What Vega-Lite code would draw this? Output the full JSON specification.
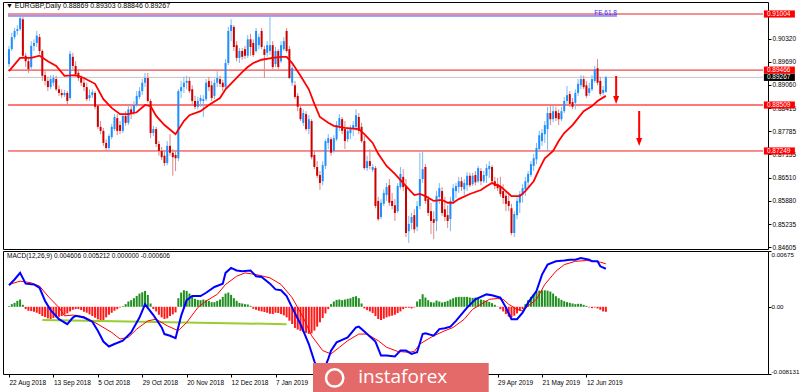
{
"$schema": "https://vega.github.io/schema/vega-lite/v6.json",
"background": "white",
"padding": {"left": 2, "top": 1, "right": 0, "bottom": 0},
"spacing": 2,
"bounds": "flush",
"config": {"view": {"stroke": "#000000", "strokeWidth": 1}, "font": "Liberation Sans", "axis": {"labelFont": "Liberation Sans", "labelFontSize": 6.5, "labelColor": "#000000", "tickColor": "#000000", "domain": false, "grid": false, "labelOverlap": false, "labelBound": false}},
"datasets": {
"candles": [
{"i":0,"o":0.8963,"h":0.9013,"l":0.8955,"c":0.9004},{"i":1,"o":0.9004,"h":0.9049,"l":0.8999,"c":0.9037},{"i":2,"o":0.9037,"h":0.9062,"l":0.9031,"c":0.9054},{"i":3,"o":0.9054,"h":0.9070,"l":0.9043,"c":0.9059},{"i":4,"o":0.9059,"h":0.9100,"l":0.9054,"c":0.9089},
{"i":5,"o":0.9086,"h":0.9092,"l":0.8980,"c":0.8986},{"i":6,"o":0.8986,"h":0.8994,"l":0.8955,"c":0.8971},{"i":7,"o":0.8971,"h":0.8983,"l":0.8939,"c":0.8949},{"i":8,"o":0.8955,"h":0.9026,"l":0.8949,"c":0.9013},{"i":9,"o":0.9013,"h":0.9031,"l":0.8999,"c":0.9021},
{"i":10,"o":0.9021,"h":0.9054,"l":0.9010,"c":0.9041},{"i":11,"o":0.9037,"h":0.9046,"l":0.8991,"c":0.8999},{"i":12,"o":0.8999,"h":0.9004,"l":0.8917,"c":0.8931},{"i":13,"o":0.8933,"h":0.8944,"l":0.8905,"c":0.8917},{"i":14,"o":0.8917,"h":0.8928,"l":0.8889,"c":0.8900},
{"i":15,"o":0.8900,"h":0.8933,"l":0.8894,"c":0.8922},{"i":16,"o":0.8912,"h":0.8933,"l":0.8903,"c":0.8925},{"i":17,"o":0.8922,"h":0.8931,"l":0.8889,"c":0.8894},{"i":18,"o":0.8894,"h":0.8905,"l":0.8876,"c":0.8884},{"i":19,"o":0.8884,"h":0.8894,"l":0.8870,"c":0.8878},
{"i":20,"o":0.8878,"h":0.8892,"l":0.8873,"c":0.8884},{"i":21,"o":0.8884,"h":0.8889,"l":0.8851,"c":0.8862},{"i":22,"o":0.8870,"h":0.8999,"l":0.8865,"c":0.8991},{"i":23,"o":0.8983,"h":0.8994,"l":0.8949,"c":0.8958},{"i":24,"o":0.8958,"h":0.8971,"l":0.8928,"c":0.8936},
{"i":25,"o":0.8939,"h":0.8949,"l":0.8917,"c":0.8925},{"i":26,"o":0.8925,"h":0.8933,"l":0.8903,"c":0.8912},{"i":27,"o":0.8912,"h":0.8922,"l":0.8889,"c":0.8900},{"i":28,"o":0.8900,"h":0.8912,"l":0.8862,"c":0.8867},{"i":29,"o":0.8870,"h":0.8894,"l":0.8862,"c":0.8878},
{"i":30,"o":0.8878,"h":0.8894,"l":0.8870,"c":0.8886},{"i":31,"o":0.8884,"h":0.8889,"l":0.8839,"c":0.8846},{"i":32,"o":0.8849,"h":0.8854,"l":0.8785,"c":0.8791},{"i":33,"o":0.8791,"h":0.8807,"l":0.8771,"c":0.8780},{"i":34,"o":0.8780,"h":0.8788,"l":0.8739,"c":0.8747},
{"i":35,"o":0.8747,"h":0.8757,"l":0.8725,"c":0.8733},{"i":36,"o":0.8733,"h":0.8771,"l":0.8725,"c":0.8766},{"i":37,"o":0.8763,"h":0.8799,"l":0.8757,"c":0.8791},{"i":38,"o":0.8785,"h":0.8826,"l":0.8780,"c":0.8818},{"i":39,"o":0.8815,"h":0.8826,"l":0.8768,"c":0.8780},
{"i":40,"o":0.8796,"h":0.8807,"l":0.8771,"c":0.8780},{"i":41,"o":0.8780,"h":0.8829,"l":0.8774,"c":0.8821},{"i":42,"o":0.8821,"h":0.8834,"l":0.8794,"c":0.8802},{"i":43,"o":0.8802,"h":0.8851,"l":0.8796,"c":0.8839},{"i":44,"o":0.8839,"h":0.8854,"l":0.8812,"c":0.8829},
{"i":45,"o":0.8829,"h":0.8862,"l":0.8823,"c":0.8851},{"i":46,"o":0.8851,"h":0.8889,"l":0.8846,"c":0.8876},{"i":47,"o":0.8873,"h":0.8900,"l":0.8867,"c":0.8889},{"i":48,"o":0.8889,"h":0.8922,"l":0.8878,"c":0.8912},{"i":49,"o":0.8912,"h":0.8939,"l":0.8900,"c":0.8925},
{"i":50,"o":0.8925,"h":0.8939,"l":0.8857,"c":0.8862},{"i":51,"o":0.8862,"h":0.8867,"l":0.8760,"c":0.8774},{"i":52,"o":0.8774,"h":0.8794,"l":0.8766,"c":0.8785},{"i":53,"o":0.8785,"h":0.8791,"l":0.8736,"c":0.8744},{"i":54,"o":0.8744,"h":0.8752,"l":0.8712,"c":0.8725},
{"i":55,"o":0.8725,"h":0.8736,"l":0.8700,"c":0.8708},{"i":56,"o":0.8712,"h":0.8725,"l":0.8684,"c":0.8692},{"i":57,"o":0.8692,"h":0.8752,"l":0.8686,"c":0.8739},{"i":58,"o":0.8739,"h":0.8771,"l":0.8712,"c":0.8720},{"i":59,"o":0.8720,"h":0.8730,"l":0.8657,"c":0.8708},
{"i":60,"o":0.8714,"h":0.8725,"l":0.8670,"c":0.8705},{"i":61,"o":0.8705,"h":0.8894,"l":0.8697,"c":0.8889},{"i":62,"o":0.8889,"h":0.8917,"l":0.8870,"c":0.8900},{"i":63,"o":0.8900,"h":0.8928,"l":0.8884,"c":0.8912},{"i":64,"o":0.8912,"h":0.8931,"l":0.8894,"c":0.8917},
{"i":65,"o":0.8917,"h":0.8928,"l":0.8884,"c":0.8889},{"i":66,"o":0.8894,"h":0.8905,"l":0.8851,"c":0.8862},{"i":67,"o":0.8862,"h":0.8876,"l":0.8839,"c":0.8846},{"i":68,"o":0.8846,"h":0.8873,"l":0.8839,"c":0.8862},{"i":69,"o":0.8862,"h":0.8878,"l":0.8846,"c":0.8870},
{"i":70,"o":0.8862,"h":0.8878,"l":0.8818,"c":0.8867},{"i":71,"o":0.8867,"h":0.8922,"l":0.8862,"c":0.8912},{"i":72,"o":0.8917,"h":0.8928,"l":0.8889,"c":0.8900},{"i":73,"o":0.8905,"h":0.8917,"l":0.8862,"c":0.8870},{"i":74,"o":0.8876,"h":0.8922,"l":0.8867,"c":0.8912},
{"i":75,"o":0.8912,"h":0.8944,"l":0.8900,"c":0.8925},{"i":76,"o":0.8922,"h":0.8931,"l":0.8900,"c":0.8909},{"i":77,"o":0.8912,"h":0.8920,"l":0.8889,"c":0.8900},{"i":78,"o":0.8900,"h":0.8977,"l":0.8894,"c":0.8966},{"i":79,"o":0.8966,"h":0.9065,"l":0.8960,"c":0.9054},
{"i":80,"o":0.9054,"h":0.9086,"l":0.9026,"c":0.9070},{"i":81,"o":0.9065,"h":0.9070,"l":0.8999,"c":0.9010},{"i":82,"o":0.9015,"h":0.9026,"l":0.8971,"c":0.8980},{"i":83,"o":0.8980,"h":0.9007,"l":0.8966,"c":0.8999},{"i":84,"o":0.8999,"h":0.9007,"l":0.8975,"c":0.8983},
{"i":85,"o":0.9004,"h":0.9013,"l":0.8977,"c":0.8986},{"i":86,"o":0.8986,"h":0.9043,"l":0.8980,"c":0.9031},{"i":87,"o":0.9031,"h":0.9046,"l":0.8986,"c":0.9010},{"i":88,"o":0.9021,"h":0.9031,"l":0.8983,"c":0.8988},{"i":89,"o":0.8999,"h":0.9062,"l":0.8994,"c":0.9054},
{"i":90,"o":0.9015,"h":0.9046,"l":0.9004,"c":0.9037},{"i":91,"o":0.9054,"h":0.9062,"l":0.9004,"c":0.9010},{"i":92,"o":0.9004,"h":0.9013,"l":0.8925,"c":0.8988},{"i":93,"o":0.8994,"h":0.9026,"l":0.8983,"c":0.9015},{"i":94,"o":0.8999,"h":0.9100,"l":0.8988,"c":0.9015},
{"i":95,"o":0.9015,"h":0.9026,"l":0.8949,"c":0.8955},{"i":96,"o":0.8963,"h":0.9010,"l":0.8955,"c":0.8999},{"i":97,"o":0.8999,"h":0.9004,"l":0.8949,"c":0.8955},{"i":98,"o":0.8971,"h":0.9026,"l":0.8966,"c":0.9015},{"i":99,"o":0.9004,"h":0.9037,"l":0.8999,"c":0.9026},
{"i":100,"o":0.9054,"h":0.9062,"l":0.8994,"c":0.8999},{"i":101,"o":0.9004,"h":0.9013,"l":0.8922,"c":0.8925},{"i":102,"o":0.8912,"h":0.8966,"l":0.8903,"c":0.8952},{"i":103,"o":0.8905,"h":0.8917,"l":0.8867,"c":0.8873},{"i":104,"o":0.8876,"h":0.8884,"l":0.8834,"c":0.8846},
{"i":105,"o":0.8843,"h":0.8851,"l":0.8807,"c":0.8812},{"i":106,"o":0.8802,"h":0.8839,"l":0.8794,"c":0.8829},{"i":107,"o":0.8826,"h":0.8834,"l":0.8780,"c":0.8785},{"i":108,"o":0.8785,"h":0.8823,"l":0.8771,"c":0.8812},{"i":109,"o":0.8807,"h":0.8812,"l":0.8702,"c":0.8708},
{"i":110,"o":0.8714,"h":0.8725,"l":0.8675,"c":0.8681},{"i":111,"o":0.8681,"h":0.8697,"l":0.8651,"c":0.8657},{"i":112,"o":0.8659,"h":0.8670,"l":0.8618,"c":0.8637},{"i":113,"o":0.8642,"h":0.8697,"l":0.8631,"c":0.8686},{"i":114,"o":0.8684,"h":0.8757,"l":0.8675,"c":0.8752},
{"i":115,"o":0.8747,"h":0.8771,"l":0.8730,"c":0.8760},{"i":116,"o":0.8757,"h":0.8763,"l":0.8712,"c":0.8720},{"i":117,"o":0.8725,"h":0.8768,"l":0.8720,"c":0.8760},{"i":118,"o":0.8757,"h":0.8807,"l":0.8752,"c":0.8796},{"i":119,"o":0.8794,"h":0.8826,"l":0.8780,"c":0.8815},
{"i":120,"o":0.8812,"h":0.8818,"l":0.8771,"c":0.8780},{"i":121,"o":0.8785,"h":0.8807,"l":0.8730,"c":0.8752},{"i":122,"o":0.8757,"h":0.8788,"l":0.8749,"c":0.8780},{"i":123,"o":0.8774,"h":0.8796,"l":0.8757,"c":0.8788},{"i":124,"o":0.8785,"h":0.8807,"l":0.8766,"c":0.8796},
{"i":125,"o":0.8791,"h":0.8839,"l":0.8780,"c":0.8823},{"i":126,"o":0.8818,"h":0.8829,"l":0.8771,"c":0.8780},{"i":127,"o":0.8791,"h":0.8802,"l":0.8747,"c":0.8752},{"i":128,"o":0.8752,"h":0.8766,"l":0.8673,"c":0.8678},{"i":129,"o":0.8678,"h":0.8712,"l":0.8670,"c":0.8697},
{"i":130,"o":0.8697,"h":0.8730,"l":0.8675,"c":0.8684},{"i":131,"o":0.8673,"h":0.8689,"l":0.8667,"c":0.8681},{"i":132,"o":0.8678,"h":0.8684,"l":0.8568,"c":0.8574},{"i":133,"o":0.8588,"h":0.8599,"l":0.8533,"c":0.8538},{"i":134,"o":0.8544,"h":0.8593,"l":0.8538,"c":0.8583},
{"i":135,"o":0.8580,"h":0.8620,"l":0.8574,"c":0.8610},{"i":136,"o":0.8604,"h":0.8637,"l":0.8588,"c":0.8626},{"i":137,"o":0.8631,"h":0.8648,"l":0.8574,"c":0.8583},{"i":138,"o":0.8588,"h":0.8610,"l":0.8565,"c":0.8574},{"i":139,"o":0.8576,"h":0.8593,"l":0.8533,"c":0.8555},
{"i":140,"o":0.8560,"h":0.8637,"l":0.8555,"c":0.8629},{"i":141,"o":0.8626,"h":0.8681,"l":0.8620,"c":0.8662},{"i":142,"o":0.8654,"h":0.8675,"l":0.8615,"c":0.8626},{"i":143,"o":0.8629,"h":0.8648,"l":0.8489,"c":0.8500},{"i":144,"o":0.8505,"h":0.8547,"l":0.8473,"c":0.8525},
{"i":145,"o":0.8528,"h":0.8555,"l":0.8510,"c":0.8544},{"i":146,"o":0.8549,"h":0.8565,"l":0.8500,"c":0.8510},{"i":147,"o":0.8517,"h":0.8588,"l":0.8505,"c":0.8574},{"i":148,"o":0.8574,"h":0.8720,"l":0.8565,"c":0.8648},{"i":149,"o":0.8648,"h":0.8725,"l":0.8637,"c":0.8675},
{"i":150,"o":0.8681,"h":0.8689,"l":0.8580,"c":0.8588},{"i":151,"o":0.8593,"h":0.8602,"l":0.8547,"c":0.8555},{"i":152,"o":0.8560,"h":0.8583,"l":0.8497,"c":0.8533},{"i":153,"o":0.8538,"h":0.8560,"l":0.8483,"c":0.8528},{"i":154,"o":0.8533,"h":0.8615,"l":0.8505,"c":0.8602},
{"i":155,"o":0.8599,"h":0.8637,"l":0.8580,"c":0.8623},{"i":156,"o":0.8615,"h":0.8626,"l":0.8547,"c":0.8555},{"i":157,"o":0.8565,"h":0.8599,"l":0.8533,"c":0.8544},{"i":158,"o":0.8549,"h":0.8576,"l":0.8514,"c":0.8533},{"i":159,"o":0.8538,"h":0.8599,"l":0.8505,"c":0.8588},
{"i":160,"o":0.8588,"h":0.8634,"l":0.8580,"c":0.8623},{"i":161,"o":0.8615,"h":0.8637,"l":0.8596,"c":0.8629},{"i":162,"o":0.8626,"h":0.8654,"l":0.8610,"c":0.8642},{"i":163,"o":0.8642,"h":0.8654,"l":0.8615,"c":0.8626},{"i":164,"o":0.8620,"h":0.8648,"l":0.8604,"c":0.8637},
{"i":165,"o":0.8631,"h":0.8667,"l":0.8615,"c":0.8657},{"i":166,"o":0.8657,"h":0.8665,"l":0.8626,"c":0.8631},{"i":167,"o":0.8634,"h":0.8665,"l":0.8629,"c":0.8657},{"i":168,"o":0.8659,"h":0.8670,"l":0.8631,"c":0.8639},{"i":169,"o":0.8642,"h":0.8684,"l":0.8637,"c":0.8678},
{"i":170,"o":0.8670,"h":0.8678,"l":0.8631,"c":0.8642},{"i":171,"o":0.8642,"h":0.8670,"l":0.8637,"c":0.8659},{"i":172,"o":0.8657,"h":0.8689,"l":0.8637,"c":0.8678},{"i":173,"o":0.8675,"h":0.8697,"l":0.8651,"c":0.8684},{"i":174,"o":0.8681,"h":0.8686,"l":0.8634,"c":0.8642},
{"i":175,"o":0.8642,"h":0.8654,"l":0.8620,"c":0.8629},{"i":176,"o":0.8634,"h":0.8651,"l":0.8615,"c":0.8623},{"i":177,"o":0.8629,"h":0.8654,"l":0.8599,"c":0.8607},{"i":178,"o":0.8615,"h":0.8634,"l":0.8580,"c":0.8596},{"i":179,"o":0.8602,"h":0.8615,"l":0.8560,"c":0.8580},
{"i":180,"o":0.8588,"h":0.8610,"l":0.8560,"c":0.8574},{"i":181,"o":0.8568,"h":0.8580,"l":0.8494,"c":0.8500},{"i":182,"o":0.8500,"h":0.8560,"l":0.8489,"c":0.8552},{"i":183,"o":0.8549,"h":0.8599,"l":0.8538,"c":0.8588},{"i":184,"o":0.8583,"h":0.8615,"l":0.8555,"c":0.8607},
{"i":185,"o":0.8604,"h":0.8634,"l":0.8583,"c":0.8623},{"i":186,"o":0.8620,"h":0.8654,"l":0.8602,"c":0.8642},{"i":187,"o":0.8639,"h":0.8670,"l":0.8626,"c":0.8662},{"i":188,"o":0.8659,"h":0.8697,"l":0.8654,"c":0.8689},{"i":189,"o":0.8684,"h":0.8717,"l":0.8670,"c":0.8705},
{"i":190,"o":0.8702,"h":0.8747,"l":0.8689,"c":0.8733},{"i":191,"o":0.8730,"h":0.8780,"l":0.8725,"c":0.8768},{"i":192,"o":0.8752,"h":0.8785,"l":0.8739,"c":0.8774},{"i":193,"o":0.8771,"h":0.8807,"l":0.8747,"c":0.8796},{"i":194,"o":0.8785,"h":0.8846,"l":0.8725,"c":0.8829},
{"i":195,"o":0.8829,"h":0.8851,"l":0.8796,"c":0.8812},{"i":196,"o":0.8812,"h":0.8849,"l":0.8804,"c":0.8834},{"i":197,"o":0.8834,"h":0.8846,"l":0.8807,"c":0.8815},{"i":198,"o":0.8829,"h":0.8839,"l":0.8796,"c":0.8812},{"i":199,"o":0.8812,"h":0.8846,"l":0.8807,"c":0.8834},
{"i":200,"o":0.8834,"h":0.8873,"l":0.8829,"c":0.8862},{"i":201,"o":0.8862,"h":0.8903,"l":0.8854,"c":0.8878},{"i":202,"o":0.8881,"h":0.8889,"l":0.8846,"c":0.8854},{"i":203,"o":0.8859,"h":0.8870,"l":0.8839,"c":0.8846},{"i":204,"o":0.8857,"h":0.8894,"l":0.8839,"c":0.8884},
{"i":205,"o":0.8884,"h":0.8922,"l":0.8876,"c":0.8909},{"i":206,"o":0.8905,"h":0.8933,"l":0.8894,"c":0.8922},{"i":207,"o":0.8922,"h":0.8931,"l":0.8894,"c":0.8900},{"i":208,"o":0.8905,"h":0.8917,"l":0.8870,"c":0.8876},{"i":209,"o":0.8884,"h":0.8912,"l":0.8876,"c":0.8897},
{"i":210,"o":0.8894,"h":0.8933,"l":0.8889,"c":0.8922},{"i":211,"o":0.8917,"h":0.8958,"l":0.8912,"c":0.8949},{"i":212,"o":0.8952,"h":0.8977,"l":0.8905,"c":0.8912},{"i":213,"o":0.8917,"h":0.8928,"l":0.8876,"c":0.8881},{"i":214,"o":0.8884,"h":0.8903,"l":0.8878,"c":0.8892},
{"i":215,"o":0.88869,"h":0.89303,"l":0.88846,"c":0.89267}
],
"ma": [
{"i":0,"ma":0.8944},{"i":4,"ma":0.8980},{"i":8,"ma":0.8980},{"i":11,"ma":0.8986},{"i":14,"ma":0.8971},{"i":17,"ma":0.8958},{"i":20,"ma":0.8931},{"i":24,"ma":0.8933},{"i":27,"ma":0.8925},{"i":31,"ma":0.8909},{"i":34,"ma":0.8867},{"i":37,"ma":0.8843},{"i":40,"ma":0.8826},{"i":43,"ma":0.8826},{"i":46,"ma":0.8831},{"i":49,"ma":0.8851},{"i":51,"ma":0.8848},{"i":53,"ma":0.8821},{"i":56,"ma":0.8796},{"i":60,"ma":0.8771},{"i":61,"ma":0.8783},{"i":63,"ma":0.8807},{"i":65,"ma":0.8823},{"i":69,"ma":0.8834},{"i":72,"ma":0.8851},{"i":76,"ma":0.8870},{"i":78,"ma":0.8894},{"i":82,"ma":0.8925},{"i":84,"ma":0.8941},{"i":86,"ma":0.8955},{"i":88,"ma":0.8966},{"i":91,"ma":0.8975},{"i":95,"ma":0.8980},{"i":98,"ma":0.8983},{"i":100,"ma":0.8983},{"i":102,"ma":0.8966},{"i":105,"ma":0.8931},{"i":108,"ma":0.8894},{"i":110,"ma":0.8854},{"i":112,"ma":0.8818},{"i":115,"ma":0.8802},{"i":117,"ma":0.8794},{"i":121,"ma":0.8788},{"i":126,"ma":0.8785},{"i":128,"ma":0.8771},{"i":131,"ma":0.8747},{"i":133,"ma":0.8717},{"i":136,"ma":0.8684},{"i":139,"ma":0.8662},{"i":142,"ma":0.8637},{"i":146,"ma":0.8604},{"i":148,"ma":0.8607},{"i":150,"ma":0.8601},{"i":153,"ma":0.8588},{"i":156,"ma":0.8591},{"i":158,"ma":0.8583},{"i":160,"ma":0.8583},{"i":162,"ma":0.8593},{"i":166,"ma":0.8607},{"i":170,"ma":0.8618},{"i":172,"ma":0.8628},{"i":174,"ma":0.8637},{"i":177,"ma":0.8628},{"i":179,"ma":0.8615},{"i":181,"ma":0.8601},{"i":184,"ma":0.8601},{"i":186,"ma":0.8615},{"i":189,"ma":0.8642},{"i":191,"ma":0.8675},{"i":193,"ma":0.8705},{"i":196,"ma":0.8725},{"i":198,"ma":0.8752},{"i":200,"ma":0.8774},{"i":203,"ma":0.8796},{"i":205,"ma":0.8815},{"i":207,"ma":0.8834},{"i":210,"ma":0.8848},{"i":212,"ma":0.8862},{"i":215,"ma":0.8876}
],
"macd": [
{"i":0,"v":0.0026},{"i":2,"v":0.0033},{"i":4,"v":0.0041},{"i":6,"v":0.0028},{"i":9,"v":0.0027},{"i":11,"v":0.0023},{"i":13,"v":0.0007},{"i":15,"v":-0.0004},{"i":18,"v":-0.0015},{"i":21,"v":-0.0021},{"i":23,"v":-0.0013},{"i":24,"v":-0.0011},{"i":27,"v":-0.0013},{"i":30,"v":-0.0018},{"i":32,"v":-0.0029},{"i":34,"v":-0.0042},{"i":36,"v":-0.0048},{"i":38,"v":-0.0045},{"i":41,"v":-0.0041},{"i":44,"v":-0.0031},{"i":47,"v":-0.0013},{"i":49,"v":0.0003},{"i":52,"v":-0.0010},{"i":55,"v":-0.0025},{"i":56,"v":-0.0033},{"i":58,"v":-0.0035},{"i":60,"v":-0.0038},{"i":62,"v":-0.0011},{"i":64,"v":0.0008},{"i":66,"v":0.0013},{"i":69,"v":0.0013},{"i":71,"v":0.0017},{"i":74,"v":0.0024},{"i":77,"v":0.0028},{"i":78,"v":0.0041},{"i":80,"v":0.0047},{"i":82,"v":0.0044},{"i":84,"v":0.0043},{"i":87,"v":0.0044},{"i":89,"v":0.0037},{"i":91,"v":0.0036},{"i":94,"v":0.0028},{"i":96,"v":0.0021},{"i":98,"v":0.0020},{"i":100,"v":0.0013},{"i":102,"v":-0.0001},{"i":105,"v":-0.0021},{"i":108,"v":-0.0045},{"i":110,"v":-0.0066},{"i":112,"v":-0.0079},{"i":113,"v":-0.0080},{"i":115,"v":-0.0063},{"i":116,"v":-0.0053},{"i":118,"v":-0.0043},{"i":120,"v":-0.0040},{"i":122,"v":-0.0037},{"i":125,"v":-0.0025},{"i":126,"v":-0.0024},{"i":127,"v":-0.0027},{"i":129,"v":-0.0033},{"i":132,"v":-0.0042},{"i":134,"v":-0.0059},{"i":136,"v":-0.0059},{"i":139,"v":-0.0060},{"i":141,"v":-0.0053},{"i":143,"v":-0.0053},{"i":145,"v":-0.0057},{"i":147,"v":-0.0055},{"i":149,"v":-0.0033},{"i":150,"v":-0.0032},{"i":153,"v":-0.0035},{"i":155,"v":-0.0027},{"i":157,"v":-0.0026},{"i":159,"v":-0.0024},{"i":161,"v":-0.0017},{"i":165,"v":-0.0001},{"i":168,"v":0.0009},{"i":172,"v":0.0015},{"i":174,"v":0.0014},{"i":177,"v":0.0011},{"i":179,"v":-0.0001},{"i":181,"v":-0.0015},{"i":183,"v":-0.0015},{"i":185,"v":-0.0007},{"i":187,"v":0.0005},{"i":190,"v":0.0019},{"i":192,"v":0.0039},{"i":194,"v":0.0051},{"i":197,"v":0.0055},{"i":200,"v":0.0056},{"i":202,"v":0.0057},{"i":204,"v":0.0057},{"i":206,"v":0.0059},{"i":209,"v":0.0057},{"i":210,"v":0.0055},{"i":212,"v":0.0055},{"i":213,"v":0.0049},{"i":215,"v":0.0046}
],
"sig": [
{"i":0,"v":0.0027},{"i":4,"v":0.0031},{"i":8,"v":0.0029},{"i":11,"v":0.0025},{"i":14,"v":0.0013},{"i":18,"v":-0.0001},{"i":20,"v":-0.0011},{"i":23,"v":-0.0010},{"i":27,"v":-0.0012},{"i":32,"v":-0.0021},{"i":37,"v":-0.0031},{"i":40,"v":-0.0039},{"i":43,"v":-0.0037},{"i":46,"v":-0.0027},{"i":50,"v":-0.0017},{"i":53,"v":-0.0015},{"i":57,"v":-0.0023},{"i":61,"v":-0.0029},{"i":64,"v":-0.0019},{"i":68,"v":-0.0001},{"i":71,"v":0.0007},{"i":75,"v":0.0015},{"i":78,"v":0.0027},{"i":82,"v":0.0037},{"i":85,"v":0.0041},{"i":89,"v":0.0039},{"i":94,"v":0.0035},{"i":98,"v":0.0027},{"i":102,"v":0.0011},{"i":106,"v":-0.0013},{"i":109,"v":-0.0035},{"i":113,"v":-0.0053},{"i":116,"v":-0.0057},{"i":119,"v":-0.0049},{"i":122,"v":-0.0041},{"i":126,"v":-0.0033},{"i":129,"v":-0.0033},{"i":133,"v":-0.0041},{"i":136,"v":-0.0049},{"i":140,"v":-0.0054},{"i":144,"v":-0.0055},{"i":146,"v":-0.0054},{"i":148,"v":-0.0045},{"i":151,"v":-0.0039},{"i":153,"v":-0.0035},{"i":157,"v":-0.0029},{"i":160,"v":-0.0025},{"i":164,"v":-0.0015},{"i":167,"v":-0.0003},{"i":171,"v":0.0005},{"i":173,"v":0.0009},{"i":176,"v":0.0010},{"i":178,"v":0.0009},{"i":180,"v":0.0003},{"i":183,"v":-0.0003},{"i":185,"v":-0.0005},{"i":187,"v":0.0001},{"i":190,"v":0.0009},{"i":193,"v":0.0027},{"i":197,"v":0.0043},{"i":200,"v":0.0051},{"i":204,"v":0.0055},{"i":208,"v":0.0056},{"i":211,"v":0.0055},{"i":213,"v":0.0054},{"i":215,"v":0.0052}
],
"hist": [
{"i":0,"h":0.00008},{"i":1,"h":0.00032},{"i":2,"h":0.00048},{"i":3,"h":0.00072},{"i":4,"h":0.00088},{"i":5,"h":0.00024},{"i":6,"h":-0.00028},{"i":7,"h":-0.00048},{"i":8,"h":-0.00052},{"i":9,"h":-0.0006},
{"i":10,"h":-0.00072},{"i":11,"h":-0.00088},{"i":12,"h":-0.00112},{"i":13,"h":-0.00124},{"i":14,"h":-0.0014},{"i":15,"h":-0.00148},{"i":16,"h":-0.00136},{"i":17,"h":-0.00128},{"i":18,"h":-0.0012},{"i":19,"h":-0.00112},
{"i":20,"h":-0.00096},{"i":21,"h":-0.0008},{"i":22,"h":-0.00056},{"i":23,"h":-0.00036},{"i":24,"h":-0.00028},{"i":25,"h":-0.00028},{"i":26,"h":-0.0004},{"i":27,"h":-0.0006},{"i":28,"h":-0.00072},{"i":29,"h":-0.00092},
{"i":30,"h":-0.00112},{"i":31,"h":-0.00132},{"i":32,"h":-0.00152},{"i":33,"h":-0.00168},{"i":34,"h":-0.0016},{"i":35,"h":-0.00128},{"i":36,"h":-0.00096},{"i":37,"h":-0.00072},{"i":38,"h":-0.00048},{"i":39,"h":-0.00028},
{"i":40,"h":-0.00008},{"i":41,"h":0.00008},{"i":42,"h":0.00032},{"i":43,"h":0.00064},{"i":44,"h":0.0008},{"i":45,"h":0.00104},{"i":46,"h":0.00132},{"i":47,"h":0.0016},{"i":48,"h":0.00176},{"i":49,"h":0.00192},
{"i":50,"h":0.00144},{"i":51,"h":0.0004},{"i":52,"h":-0.00028},{"i":53,"h":-0.00056},{"i":54,"h":-0.00096},{"i":55,"h":-0.00128},{"i":56,"h":-0.00148},{"i":57,"h":-0.0014},{"i":58,"h":-0.00112},{"i":59,"h":-0.00092},
{"i":60,"h":-0.00068},{"i":61,"h":0.00104},{"i":62,"h":0.00172},{"i":63,"h":0.002},{"i":64,"h":0.00192},{"i":65,"h":0.0016},{"i":66,"h":0.00128},{"i":67,"h":0.00096},{"i":68,"h":0.00084},{"i":69,"h":0.0008},
{"i":70,"h":0.00088},{"i":71,"h":0.0008},{"i":72,"h":0.00072},{"i":73,"h":0.00056},{"i":74,"h":0.00056},{"i":75,"h":0.00072},{"i":76,"h":0.00088},{"i":77,"h":0.0012},{"i":78,"h":0.0016},{"i":79,"h":0.00172},
{"i":80,"h":0.00144},{"i":81,"h":0.00104},{"i":82,"h":0.00072},{"i":83,"h":0.00048},{"i":84,"h":0.0004},{"i":85,"h":0.00032},{"i":86,"h":0.00028},{"i":87,"h":0.00012},{"i":88,"h":-0.00024},{"i":89,"h":-0.00036},
{"i":90,"h":-0.00048},{"i":91,"h":-0.00056},{"i":92,"h":-0.00064},{"i":93,"h":-0.00072},{"i":94,"h":-0.00084},{"i":95,"h":-0.00088},{"i":96,"h":-0.00072},{"i":97,"h":-0.00076},{"i":98,"h":-0.00088},{"i":99,"h":-0.00104},
{"i":100,"h":-0.00128},{"i":101,"h":-0.00168},{"i":102,"h":-0.00208},{"i":103,"h":-0.00256},{"i":104,"h":-0.00276},{"i":105,"h":-0.00292},{"i":106,"h":-0.00304},{"i":107,"h":-0.00316},{"i":108,"h":-0.00328},{"i":109,"h":-0.0032},
{"i":110,"h":-0.00288},{"i":111,"h":-0.0024},{"i":112,"h":-0.00188},{"i":113,"h":-0.00136},{"i":114,"h":-0.0008},{"i":115,"h":-0.00028},{"i":116,"h":0.00032},{"i":117,"h":0.00064},{"i":118,"h":0.00084},{"i":119,"h":0.00088},
{"i":120,"h":0.0008},{"i":121,"h":0.00088},{"i":122,"h":0.00096},{"i":123,"h":0.00104},{"i":124,"h":0.0012},{"i":125,"h":0.00128},{"i":126,"h":0.00104},{"i":127,"h":0.0004},{"i":128,"h":-0.0002},{"i":129,"h":-0.0004},
{"i":130,"h":-0.00056},{"i":131,"h":-0.00076},{"i":132,"h":-0.00112},{"i":133,"h":-0.00148},{"i":134,"h":-0.0016},{"i":135,"h":-0.00144},{"i":136,"h":-0.00128},{"i":137,"h":-0.00116},{"i":138,"h":-0.00108},{"i":139,"h":-0.00096},
{"i":140,"h":-0.00076},{"i":141,"h":-0.00056},{"i":142,"h":-0.00028},{"i":143,"h":-0.00012},{"i":144,"h":-0.00012},{"i":145,"h":-0.0002},{"i":146,"h":-0.00008},{"i":147,"h":0.00064},{"i":148,"h":0.00092},{"i":149,"h":0.00152},
{"i":150,"h":0.00112},{"i":151,"h":0.0008},{"i":152,"h":0.00056},{"i":153,"h":0.00052},{"i":154,"h":0.00076},{"i":155,"h":0.00064},{"i":156,"h":0.00052},{"i":157,"h":0.0006},{"i":158,"h":0.00072},{"i":159,"h":0.00088},
{"i":160,"h":0.00104},{"i":161,"h":0.00116},{"i":162,"h":0.0012},{"i":163,"h":0.0012},{"i":164,"h":0.0012},{"i":165,"h":0.0012},{"i":166,"h":0.00112},{"i":167,"h":0.00108},{"i":168,"h":0.00112},{"i":169,"h":0.001},
{"i":170,"h":0.00088},{"i":171,"h":0.0008},{"i":172,"h":0.00072},{"i":173,"h":0.0006},{"i":174,"h":0.00044},{"i":175,"h":0.00024},{"i":176,"h":0.00004},{"i":177,"h":-0.00028},{"i":178,"h":-0.00056},{"i":179,"h":-0.00088},
{"i":180,"h":-0.0012},{"i":181,"h":-0.00128},{"i":182,"h":-0.00108},{"i":183,"h":-0.0008},{"i":184,"h":-0.00048},{"i":185,"h":-0.00028},{"i":186,"h":0.00032},{"i":187,"h":0.0008},{"i":188,"h":0.0012},{"i":189,"h":0.00152},
{"i":190,"h":0.0018},{"i":191,"h":0.00196},{"i":192,"h":0.002},{"i":193,"h":0.002},{"i":194,"h":0.00196},{"i":195,"h":0.00184},{"i":196,"h":0.0016},{"i":197,"h":0.00128},{"i":198,"h":0.00104},{"i":199,"h":0.00084},
{"i":200,"h":0.00068},{"i":201,"h":0.00056},{"i":202,"h":0.00048},{"i":203,"h":0.0004},{"i":204,"h":0.00032},{"i":205,"h":0.00036},{"i":206,"h":0.00036},{"i":207,"h":0.00024},{"i":208,"h":0.00012},{"i":209,"h":-0.00008},
{"i":210,"h":-0.00016},{"i":211,"h":-0.00008},{"i":212,"h":-0.0002},{"i":213,"h":-0.00036},{"i":214,"h":-0.00056},{"i":215,"h":-0.000606}
]
},
"vconcat": [
{
"width": 765, "height": 247,
"title": {"text": "▼ EURGBP,Daily  0.88869 0.89303 0.88846 0.89267", "anchor": "start", "frame": "group", "offset": -7, "dx": 3, "fontSize": 7, "fontWeight": "normal", "font": "Liberation Sans", "color": "#000000"},
"resolve": {"axis": {"y": "independent", "x": "independent"}},
"layer": [
{"data": {"values": [{"p": 0.89466}, {"p": 0.87249}]},
 "mark": {"type": "rule", "color": "#ee1c1c", "strokeWidth": 1},
 "encoding": {
  "x": {"datum": -0.36, "type": "quantitative", "scale": {"domain": [-0.36, 271.6], "nice": false, "zero": false}, "axis": null},
  "x2": {"datum": 271.6},
  "y": {"field": "p", "type": "quantitative", "scale": {"domain": [0.84562, 0.91333], "nice": false, "zero": false},
        "axis": {"orient": "right", "values": [0.9032, 0.8969, 0.8906, 0.88415, 0.87785, 0.87155, 0.8651, 0.8588, 0.85235, 0.84605], "format": ".5f", "title": null, "tickSize": 3, "labelPadding": 1, "labelOverlap": false, "labelBound": false, "labelFlush": false}}}},
{"data": {"values": [{"p": 0.88509}]},
 "mark": {"type": "rule", "color": "#ff4a4a", "strokeWidth": 1.5},
 "encoding": {
  "x": {"datum": -0.36, "type": "quantitative", "scale": {"domain": [-0.36, 271.6], "nice": false, "zero": false}, "axis": null},
  "x2": {"datum": 271.6},
  "y": {"field": "p", "type": "quantitative", "scale": {"domain": [0.84562, 0.91333], "nice": false, "zero": false}, "axis": null}}},
{"data": {"values": [{"p": 0.91004}]},
 "mark": {"type": "rule", "color": "#f39090", "strokeWidth": 2},
 "encoding": {
  "x": {"datum": -0.36, "type": "quantitative", "scale": {"domain": [-0.36, 271.6], "nice": false, "zero": false}, "axis": null},
  "x2": {"datum": 271.6},
  "y": {"field": "p", "type": "quantitative", "scale": {"domain": [0.84562, 0.91333], "nice": false, "zero": false}, "axis": null}}},
{"data": {"values": [{"p": 0.89267}]},
 "mark": {"type": "rule", "color": "#c4c4c4", "strokeWidth": 1},
 "encoding": {
  "x": {"datum": -0.36, "type": "quantitative", "scale": {"domain": [-0.36, 271.6], "nice": false, "zero": false}, "axis": null},
  "x2": {"datum": 271.6},
  "y": {"field": "p", "type": "quantitative", "scale": {"domain": [0.84562, 0.91333], "nice": false, "zero": false}, "axis": null}}},
{"data": {"values": [{"p": 0.9095}]},
 "mark": {"type": "rule", "color": "#3a3aff", "strokeWidth": 1},
 "encoding": {
  "x": {"datum": -0.36, "type": "quantitative", "scale": {"domain": [-0.36, 271.6], "nice": false, "zero": false}, "axis": null},
  "x2": {"datum": 219},
  "y": {"field": "p", "type": "quantitative", "scale": {"domain": [0.84562, 0.91333], "nice": false, "zero": false}, "axis": null}}},
{"data": {"name": "candles"},
 "mark": {"type": "rule", "strokeWidth": 1},
 "encoding": {
  "x": {"field": "i", "type": "quantitative", "scale": {"domain": [-0.36, 271.6], "nice": false, "zero": false}, "axis": null},
  "y": {"field": "l", "type": "quantitative", "scale": {"domain": [0.84562, 0.91333], "nice": false, "zero": false}, "axis": null},
  "y2": {"field": "h"},
  "color": {"condition": {"test": "datum.c >= datum.o", "value": "#7db9f0"}, "value": "#d98888"}}},
{"data": {"name": "candles"},
 "mark": {"type": "bar", "width": 2},
 "encoding": {
  "x": {"field": "i", "type": "quantitative", "scale": {"domain": [-0.36, 271.6], "nice": false, "zero": false}, "axis": null},
  "y": {"field": "o", "type": "quantitative", "scale": {"domain": [0.84562, 0.91333], "nice": false, "zero": false}, "axis": null},
  "y2": {"field": "c"},
  "color": {"condition": {"test": "datum.c >= datum.o", "value": "#1e8fff"}, "value": "#cc0000"}}},
{"data": {"name": "ma"},
 "mark": {"type": "line", "color": "#ff0000", "strokeWidth": 1.8},
 "encoding": {
  "x": {"field": "i", "type": "quantitative", "scale": {"domain": [-0.36, 271.6], "nice": false, "zero": false}, "axis": null},
  "y": {"field": "ma", "type": "quantitative", "scale": {"domain": [0.84562, 0.91333], "nice": false, "zero": false}, "axis": null}}},
{"data": {"values": [{"i": 218.7, "top": 0.89304, "bot": 0.8870}, {"i": 227, "top": 0.88345, "bot": 0.8758}]},
 "mark": {"type": "rule", "color": "#ff0000", "strokeWidth": 2},
 "encoding": {
  "x": {"field": "i", "type": "quantitative", "scale": {"domain": [-0.36, 271.6], "nice": false, "zero": false}, "axis": null},
  "y": {"field": "top", "type": "quantitative", "scale": {"domain": [0.84562, 0.91333], "nice": false, "zero": false}, "axis": null},
  "y2": {"field": "bot"}}},
{"data": {"values": [{"i": 218.7, "p": 0.88646}, {"i": 227, "p": 0.87495}]},
 "mark": {"type": "point", "shape": "M-0.75,-1L0.75,-1L0,1Z", "filled": true, "opacity": 1, "color": "#ff0000", "size": 64, "strokeWidth": 0},
 "encoding": {
  "x": {"field": "i", "type": "quantitative", "scale": {"domain": [-0.36, 271.6], "nice": false, "zero": false}, "axis": null},
  "y": {"field": "p", "type": "quantitative", "scale": {"domain": [0.84562, 0.91333], "nice": false, "zero": false}, "axis": null}}},
{"data": {"values": [{"i": 219, "p": 0.9102, "t": "FE 61.8"}]},
 "mark": {"type": "text", "align": "right", "baseline": "middle", "color": "#2f2fff", "fontSize": 6.5, "font": "Liberation Sans"},
 "encoding": {
  "x": {"field": "i", "type": "quantitative", "scale": {"domain": [-0.36, 271.6], "nice": false, "zero": false}, "axis": null},
  "y": {"field": "p", "type": "quantitative", "scale": {"domain": [0.84562, 0.91333], "nice": false, "zero": false}, "axis": null},
  "text": {"field": "t"}}},
{"data": {"values": [{"p": 0.91004}, {"p": 0.89466}, {"p": 0.89267}, {"p": 0.88509}, {"p": 0.87249}]},
 "mark": {"type": "point", "shape": "M-1,-0.23L1,-0.23L1,0.23L-1,0.23Z", "filled": true, "opacity": 1, "size": 961, "strokeWidth": 0},
 "encoding": {
  "x": {"datum": 277.5, "type": "quantitative", "scale": {"domain": [-0.36, 271.6], "nice": false, "zero": false}, "axis": null},
  "y": {"field": "p", "type": "quantitative", "scale": {"domain": [0.84562, 0.91333], "nice": false, "zero": false}, "axis": null},
  "color": {"condition": {"test": "datum.p == 0.89267", "value": "#000000"}, "value": "#ff0000"}}},
{"data": {"values": [{"p": 0.91004}, {"p": 0.89466}, {"p": 0.89267}, {"p": 0.88509}, {"p": 0.87249}]},
 "mark": {"type": "text", "align": "left", "baseline": "middle", "color": "#ffffff", "fontSize": 6.5, "font": "Liberation Sans"},
 "encoding": {
  "x": {"datum": 273, "type": "quantitative", "scale": {"domain": [-0.36, 271.6], "nice": false, "zero": false}, "axis": null},
  "y": {"field": "p", "type": "quantitative", "scale": {"domain": [0.84562, 0.91333], "nice": false, "zero": false}, "axis": null},
  "text": {"field": "p", "format": ".5f"}}}
]
},
{
"width": 765, "height": 123,
"title": {"text": "MACD(12,26,9) 0.004606 0.005212 0.000000 -0.000606", "anchor": "start", "frame": "group", "offset": -9, "dx": 4, "fontSize": 6.5, "fontWeight": "normal", "font": "Liberation Sans", "color": "#000000"},
"layer": [
{"data": {"name": "sig"},
 "mark": {"type": "rule", "opacity": 0},
 "encoding": {
  "x": {"field": "i", "type": "quantitative", "scale": {"domain": [-0.36, 271.6], "nice": false, "zero": false},
        "axis": {"orient": "bottom", "values": [0, 16, 32, 48, 64, 80, 96, 176, 192, 208], "labelExpr": "datum.value == 0 ? '22 Aug 2018' : datum.value == 16 ? '13 Sep 2018' : datum.value == 32 ? '5 Oct 2018' : datum.value == 48 ? '29 Oct 2018' : datum.value == 64 ? '20 Nov 2018' : datum.value == 80 ? '12 Dec 2018' : datum.value == 96 ? '7 Jan 2019' : datum.value == 176 ? '29 Apr 2019' : datum.value == 192 ? '21 May 2019' : '12 Jun 2019'", "labelAlign": "left", "labelPadding": 2, "tickSize": 3, "labelOverlap": false, "labelFlush": false, "title": null}},
  "y": {"field": "v", "type": "quantitative", "scale": {"domain": [-0.008131, 0.00675], "nice": false, "zero": false},
        "axis": {"orient": "right", "values": [0.00675, 0, -0.008131], "labelExpr": "datum.value > 0.001 ? '0.00675' : (datum.value < -0.001 ? '-0.008131' : '0.00')", "labelFlush": true, "title": null, "tickSize": 3, "labelPadding": 0, "labelFontSize": 6.2, "labelOverlap": false}}}},
{"data": {"name": "hist"},
 "mark": {"type": "bar", "width": 2},
 "encoding": {
  "x": {"field": "i", "type": "quantitative", "scale": {"domain": [-0.36, 271.6], "nice": false, "zero": false}},
  "y": {"field": "h", "type": "quantitative", "scale": {"domain": [-0.008131, 0.00675], "nice": false, "zero": false}},
  "y2": {"datum": 0},
  "color": {"condition": {"test": "datum.h >= 0", "value": "#1f8f1f"}, "value": "#ff1a1a"}}},
{"data": {"values": [{"i": 12, "v": -0.0016}, {"i": 100, "v": -0.0021}]},
 "mark": {"type": "line", "color": "#9acd32", "strokeWidth": 2},
 "encoding": {
  "x": {"field": "i", "type": "quantitative", "scale": {"domain": [-0.36, 271.6], "nice": false, "zero": false}},
  "y": {"field": "v", "type": "quantitative", "scale": {"domain": [-0.008131, 0.00675], "nice": false, "zero": false}}}},
{"data": {"name": "sig"},
 "mark": {"type": "line", "color": "#ff0000", "strokeWidth": 1},
 "encoding": {
  "x": {"field": "i", "type": "quantitative", "scale": {"domain": [-0.36, 271.6], "nice": false, "zero": false}},
  "y": {"field": "v", "type": "quantitative", "scale": {"domain": [-0.008131, 0.00675], "nice": false, "zero": false}}}},
{"data": {"name": "macd"},
 "mark": {"type": "line", "color": "#0000ff", "strokeWidth": 2},
 "encoding": {
  "x": {"field": "i", "type": "quantitative", "scale": {"domain": [-0.36, 271.6], "nice": false, "zero": false}},
  "y": {"field": "v", "type": "quantitative", "scale": {"domain": [-0.008131, 0.00675], "nice": false, "zero": false}}}},
{"data": {"values": [{"brand": "instaforex"}]},
 "mark": {"type": "rect", "color": "#e46a6a", "opacity": 1},
 "encoding": {
  "x": {"datum": 109.5, "type": "quantitative", "scale": {"domain": [-0.36, 271.6], "nice": false, "zero": false}},
  "x2": {"datum": 172.8},
  "y": {"datum": -0.0068, "type": "quantitative", "scale": {"domain": [-0.008131, 0.00675], "nice": false, "zero": false}},
  "y2": {"datum": -0.0105}}},
{"data": {"values": [{"brand": "instaforex"}]},
 "mark": {"type": "point", "shape": "circle", "filled": false, "color": "#ffffff", "opacity": 1, "strokeWidth": 2.5, "size": 300},
 "encoding": {
  "x": {"datum": 117.3, "type": "quantitative", "scale": {"domain": [-0.36, 271.6], "nice": false, "zero": false}},
  "y": {"datum": -0.00861, "type": "quantitative", "scale": {"domain": [-0.008131, 0.00675], "nice": false, "zero": false}}}},
{"data": {"values": [{"brand": "instaforex"}]},
 "mark": {"type": "text", "align": "left", "baseline": "alphabetic", "color": "#ffffff", "fontSize": 19, "font": "Open Sans"},
 "encoding": {
  "x": {"datum": 125.8, "type": "quantitative", "scale": {"domain": [-0.36, 271.6], "nice": false, "zero": false}},
  "y": {"datum": -0.00922, "type": "quantitative", "scale": {"domain": [-0.008131, 0.00675], "nice": false, "zero": false}},
  "text": {"field": "brand"}}}
]
}
]
}
